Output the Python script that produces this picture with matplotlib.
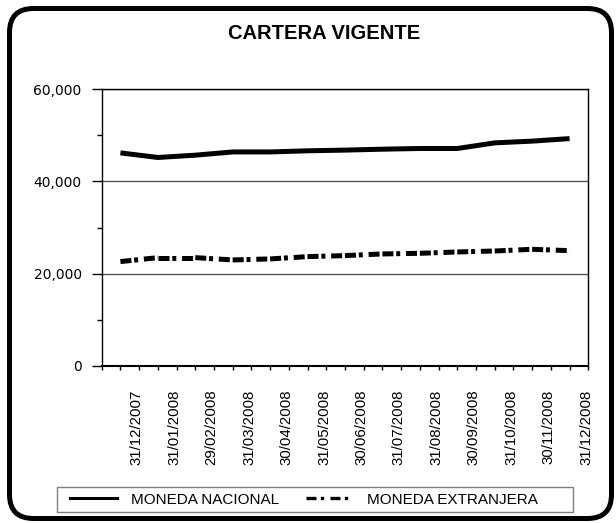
import matplotlib
matplotlib.use('Agg')
import matplotlib.pyplot as plt
from matplotlib.lines import Line2D
from matplotlib.patches import FancyBboxPatch, Rectangle
from matplotlib.transforms import IdentityTransform
from matplotlib.ticker import MultipleLocator, FuncFormatter
import numpy as np

plt.rcParams['font.family'] = ['Liberation Sans', 'DejaVu Sans']

# ---------------- data ----------------
title = "CARTERA VIGENTE"
dates = ["31/12/2007", "31/01/2008", "29/02/2008", "31/03/2008", "30/04/2008",
         "31/05/2008", "30/06/2008", "31/07/2008", "31/08/2008", "30/09/2008",
         "31/10/2008", "30/11/2008", "31/12/2008"]
moneda_nacional = [46200, 45200, 45700, 46400, 46400, 46650, 46800,
                   47000, 47150, 47150, 48370, 48750, 49300]
moneda_extranjera = [22600, 23460, 23460, 22960, 23180, 23680, 23900,
                     24260, 24400, 24690, 24900, 25270, 24970]
series_names = ["MONEDA NACIONAL", "MONEDA EXTRANJERA"]
y_ticks = [0, 20000, 40000, 60000]

# ---------------- figure ----------------
W, H = 616, 523
fig = plt.figure(figsize=(W / 100, H / 100), dpi=100)

# outer rounded border
border = FancyBboxPatch((9.5, 4.5), 602, 510, boxstyle="round,pad=0,rounding_size=24",
                        transform=IdentityTransform(), fill=False,
                        edgecolor='black', linewidth=3.6)
fig.patches.append(border)

ax = fig.add_axes([101.7 / W, 1 - 365.7 / H, (588.3 - 101.7) / W, (365.7 - 89.3) / H])

x = np.arange(len(dates))
ax.plot(x, moneda_nacional, color='black', lw=3.6, solid_capstyle='butt', zorder=3)
dash = (0, (2.2, 0.56, 0.8, 1.16))
for i in range(len(x) - 1):
    ax.plot(x[i:i + 2], moneda_extranjera[i:i + 2], color='black', lw=3.6,
            linestyle=dash, dash_capstyle='butt', zorder=3)

ax.set_xlim(-0.5, len(x) - 0.5)
ax.set_ylim(0, 60000)

# y axis
ax.set_yticks(y_ticks)
ax.yaxis.set_major_formatter(FuncFormatter(lambda v, p: f"{int(v):,}"))
ax.yaxis.set_minor_locator(MultipleLocator(10000))
ax.tick_params(axis='y', which='major', length=7.2, width=1, pad=7.2,
               labelsize=10, colors='black')
ax.tick_params(axis='y', which='minor', length=3.6, width=1)
for lbl in ax.get_yticklabels():
    lbl.set_fontfamily('DejaVu Sans')
ax.grid(axis='y', which='major', color='#555555', lw=1)

# x axis
ax.set_xticks(x + 0.44)
ax.set_xticklabels(dates, rotation=90, fontsize=10.8)
ax.tick_params(axis='x', which='major', length=0, pad=17.3)
ax.set_xticks(np.arange(-0.5, len(x), 0.5), minor=True)
ax.tick_params(axis='x', which='minor', length=3, width=1, direction='out')

for s in ax.spines.values():
    s.set_color('black')
    s.set_linewidth(1)
ax.spines['bottom'].set_linewidth(1.5)

# title
fig.text(324 / W, 1 - 39.3 / H, title, ha='center', va='baseline',
         fontsize=14.5, fontweight='bold')

# legend
box = Rectangle((57, H - 512), 516, 25, transform=IdentityTransform(), fill=False,
                edgecolor='#808080', lw=1)
fig.patches.append(box)
handles = [Line2D([], [], color='black', lw=2.2),
           Line2D([], [], color='black', lw=2.4, linestyle=(0, (3.0, 1.3, 1.0, 1.9)),
                  dash_capstyle='butt')]
fig.legend(handles, series_names, loc='center left',
           bbox_to_anchor=(70 / W, 1 - 499.5 / H), ncol=2, frameon=False,
           fontsize=11, handlelength=3.08, handletextpad=0.92, columnspacing=1.77,
           borderpad=0, borderaxespad=0)

fig.savefig('out.png', dpi=100)
